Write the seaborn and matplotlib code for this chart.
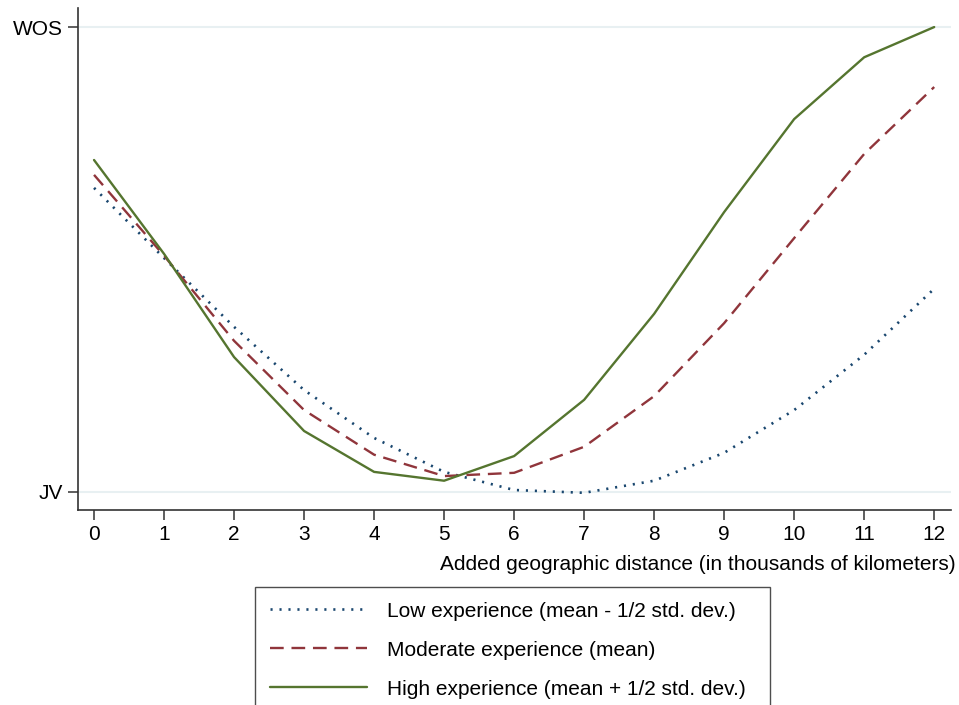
import seaborn as sns
import matplotlib.pyplot as plt

distancia = [0, 1, 2, 3, 4, 5, 6, 7, 8, 9, 10, 11, 12]

baixa = [0.654, 0.503, 0.355, 0.219, 0.116, 0.043, 0.004, -0.002, 0.024, 0.084, 0.176, 0.295, 0.437]
moderada = [0.682, 0.508, 0.325, 0.176, 0.080, 0.034, 0.041, 0.097, 0.206, 0.363, 0.546, 0.727, 0.871]
alta = [0.714, 0.512, 0.290, 0.131, 0.043, 0.024, 0.077, 0.198, 0.383, 0.602, 0.802, 0.935, 1.000]

rotulos_y = ['JV', 'WOS']
nomes = ['Low experience (mean - 1/2 std. dev.)',
         'Moderate experience (mean)',
         'High experience (mean + 1/2 std. dev.)']

sns.set_style('white')
plt.rcParams['font.family'] = ['Liberation Sans', 'DejaVu Sans']
plt.rcParams['text.color'] = 'black'

fig = plt.figure(figsize=(9.59, 7.05), dpi=100)
ax = fig.add_axes([78 / 959, 1 - 510 / 705, (951 - 78) / 959, (510 - 8) / 705])

ax.axhline(0, color='#e8f0f2', lw=1.5, zorder=0)
ax.axhline(1, color='#e8f0f2', lw=1.5, zorder=0)

sns.lineplot(x=distancia, y=baixa, ax=ax, color='#1a476f', lw=1.9,
             linestyle=(0, (0.8, 2.6)), label=nomes[0])
sns.lineplot(x=distancia, y=moderada, ax=ax, color='#90353b', lw=1.7,
             linestyle=(0, (5.8, 3.3)), label=nomes[1])
sns.lineplot(x=distancia, y=alta, ax=ax, color='#55752f', lw=1.7,
             linestyle='-', label=nomes[2])

ax.set_xlim(-0.229, 12.24)
ax.set_ylim(-0.039, 1.041)
ax.set_xticks(distancia)
ax.set_yticks([0, 1])
ax.set_yticklabels(rotulos_y)
ax.tick_params(axis='both', direction='out', length=7, width=1.1, color='#333333',
               labelsize=15, labelcolor='black', pad=4, left=True, bottom=True)
for lado in ['top', 'right']:
    ax.spines[lado].set_visible(False)
for lado in ['left', 'bottom']:
    ax.spines[lado].set_color('#333333')
    ax.spines[lado].set_linewidth(1.2)

ax.set_xlabel('Added geographic distance (in thousands of kilometers)', fontsize=15,
              color='black')
ax.xaxis.set_label_coords(1.005, -0.09)
ax.xaxis.label.set_ha('right')
ax.set_ylabel('')

handles, labels = ax.get_legend_handles_labels()
ax.get_legend().remove()
leg = fig.legend(handles, labels, loc='upper left',
                 bbox_to_anchor=(255 / 959, 1 - 587 / 705 - 0.01, 515 / 959, 0.01),
                 mode='expand', frameon=True, fancybox=False, fontsize=15,
                 handlelength=4.66, handletextpad=0.96, labelspacing=0.96,
                 borderpad=0.7, borderaxespad=0)
leg.get_frame().set_edgecolor('#222222')
leg.get_frame().set_linewidth(1.0)

fig.savefig('out.png', dpi=100)
